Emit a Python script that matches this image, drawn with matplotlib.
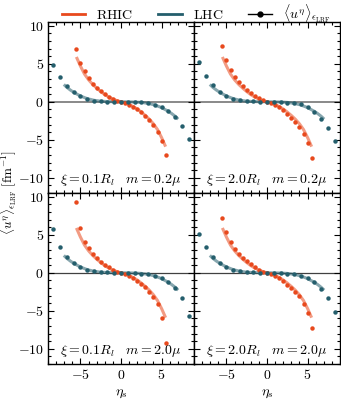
import numpy as np
import matplotlib
matplotlib.use("Agg")
import matplotlib.pyplot as plt
from matplotlib.ticker import MultipleLocator, FuncFormatter
from matplotlib.lines import Line2D

plt.rcParams['mathtext.fontset'] = 'cm'
plt.rcParams['font.family'] = 'serif'
plt.rcParams['font.serif'] = ['DejaVu Serif']
plt.rcParams['font.size'] = 10

# ---------------- data ----------------
eta_rhic = [-5.5, -5.0, -4.5, -4.0, -3.5, -3.0, -2.5, -2.0, -1.5, -1.0, -0.5, 0.0,
            0.5, 1.0, 1.5, 2.0, 2.5, 3.0, 3.5, 4.0, 4.5, 5.0, 5.5]
eta_lhc = [-8.33, -7.5, -6.67, -5.83, -5.0, -4.17, -3.33, -2.5, -1.67, -0.83, 0.0,
           0.83, 1.67, 2.5, 3.33, 4.17, 5.0, 5.83, 6.67, 7.5, 8.33]

panel_labels = [r"$\xi=0.1R_l\quad m=0.2\mu$", r"$\xi=2.0R_l\quad m=0.2\mu$",
                r"$\xi=0.1R_l\quad m=2.0\mu$", r"$\xi=2.0R_l\quad m=2.0\mu$"]

rhic_tl = [6.95, 5.15, 4.0, 3.1, 2.4, 1.85, 1.4, 1.0, 0.68, 0.4, 0.15, 0.0,
           -0.15, -0.4, -0.68, -1.0, -1.4, -1.85, -2.4, -3.1, -4.0, -5.15, -6.95]
rhic_tr = [7.4, 5.45, 4.2, 3.3, 2.6, 2.1, 1.55, 1.1, 0.72, 0.45, 0.2, 0.0,
           -0.2, -0.45, -0.72, -1.1, -1.55, -2.1, -2.6, -3.3, -4.2, -5.45, -7.4]
rhic_bl = [9.3, 5.9, 4.1, 3.2, 2.5, 1.9, 1.45, 1.05, 0.7, 0.4, 0.15, 0.0,
           -0.15, -0.4, -0.7, -1.05, -1.45, -1.9, -2.5, -3.2, -4.1, -5.9, -9.3]
rhic_br = [7.2, 5.35, 4.1, 3.1, 2.5, 2.0, 1.55, 1.1, 0.7, 0.4, 0.13, 0.0,
           -0.13, -0.4, -0.7, -1.1, -1.55, -2.0, -2.5, -3.1, -4.1, -5.35, -7.2]

lhc_tl = [4.88, 3.2, 2.06, 1.26, 0.73, 0.38, 0.15, 0.07, 0.02, 0.0, 0.0,
          0.0, -0.02, -0.07, -0.15, -0.38, -0.73, -1.26, -2.06, -3.2, -4.88]
lhc_tr = [5.2, 3.4, 2.2, 1.35, 0.7, 0.35, 0.18, 0.1, 0.04, 0.01, 0.0,
          -0.01, -0.04, -0.1, -0.18, -0.35, -0.7, -1.35, -2.2, -3.4, -5.2]
lhc_bl = [5.7, 3.34, 2.06, 1.26, 0.73, 0.38, 0.2, 0.1, 0.04, 0.01, 0.0,
          -0.01, -0.04, -0.1, -0.2, -0.38, -0.73, -1.26, -2.06, -3.34, -5.7]
lhc_br = [5.1, 3.34, 2.14, 1.26, 0.73, 0.38, 0.2, 0.1, 0.04, 0.01, 0.0,
          -0.01, -0.04, -0.1, -0.2, -0.38, -0.73, -1.26, -2.14, -3.34, -5.15]

rhic_dots = [rhic_tl, rhic_tr, rhic_bl, rhic_br]
lhc_dots = [lhc_tl, lhc_tr, lhc_bl, lhc_br]

# reference curves
eta_rhic_line = [-5.5, -5.0, -4.5, -4.0, -3.5, -3.0, -2.5, -2.0, -1.5, -1.0, -0.5, 0.0,
                 0.5, 1.0, 1.5, 2.0, 2.5, 3.0, 3.5, 4.0, 4.5, 5.0, 5.5]
rhic_line = [5.9, 4.7, 3.65, 2.9, 2.3, 1.8, 1.35, 0.95, 0.62, 0.36, 0.15, 0.0,
             -0.15, -0.36, -0.62, -0.95, -1.35, -1.8, -2.3, -2.9, -3.65, -4.7, -5.9]
eta_lhc_line = [-7.05, -6.67, -6.25, -5.83, -5.0, -4.17, -3.33, -2.5, -1.67, -0.83, 0.0,
                0.83, 1.67, 2.5, 3.33, 4.17, 5.0, 5.83, 6.25, 6.67, 7.05]
lhc_line = [2.28, 1.9, 1.55, 1.25, 0.76, 0.42, 0.2, 0.08, 0.03, 0.01, 0.0,
            -0.01, -0.03, -0.08, -0.2, -0.42, -0.76, -1.25, -1.55, -1.9, -2.28]

c_rhic = "#E8491D"
c_lhc = "#245E6C"

fig = plt.figure(figsize=(3.41, 4.0), dpi=100)
L, R, B, T = 48/341, 340/341, 36/400, 378/400
W = (R - L) / 2
H = (T - B) / 2
axes = []
for i in range(4):
    r, c = divmod(i, 2)
    ax = fig.add_axes([L + c*W, B + (1-r)*H, W, H])
    axes.append(ax)

fmt = FuncFormatter(lambda v, p: f"${v:g}$")
for i, ax in enumerate(axes):
    r, c = divmod(i, 2)
    ax.axhline(0, color='0.5' if r == 0 else '0.25', lw=1.3 if r == 0 else 0.9, zorder=1)
    ax.plot(eta_rhic_line, rhic_line, color=c_rhic, alpha=0.55, lw=2.2, solid_capstyle='butt', zorder=2)
    ax.plot(eta_lhc_line, lhc_line, color=c_lhc, alpha=0.55, lw=2.2, solid_capstyle='butt', zorder=2)
    ax.plot(eta_rhic, rhic_dots[i], 'o', color=c_rhic, ms=3.2, mew=0, zorder=3)
    ax.plot(eta_lhc, lhc_dots[i], 'o', color=c_lhc, ms=3.2, mew=0, zorder=3)
    ax.set_xlim(-9, 9)
    ax.set_ylim(-12, 10.5)
    ax.xaxis.set_major_locator(MultipleLocator(5))
    ax.xaxis.set_minor_locator(MultipleLocator(1))
    ax.yaxis.set_major_locator(MultipleLocator(5))
    ax.yaxis.set_minor_locator(MultipleLocator(1))
    ax.tick_params(which='both', direction='in', top=True, right=True, width=0.8)
    ax.tick_params(which='major', length=4.5, labelsize=10, pad=3)
    ax.tick_params(which='minor', length=2.3)
    ax.xaxis.set_major_formatter(fmt)
    ax.yaxis.set_major_formatter(fmt)
    if c == 1:
        ax.tick_params(labelleft=False)
    if r == 0:
        ax.tick_params(labelbottom=False)
    else:
        ax.set_xlabel(r"$\eta_s$", labelpad=3, fontsize=10)
    for s in ax.spines.values():
        s.set_linewidth(1.0)
    ax.text(0.5, 0.03, panel_labels[i], transform=ax.transAxes, ha='center', va='bottom',
            fontsize=10)

fig.text(0.026, (B + T) / 2, r"$\langle u^\eta\rangle_{\epsilon_{\rm LRF}}\ [{\rm fm}^{-1}]$",
         rotation=90, ha='center', va='center', fontsize=9.5)

handles = [Line2D([], [], color=c_rhic, lw=2),
           Line2D([], [], color=c_lhc, lw=2),
           Line2D([], [], color='k', lw=1, marker='o', ms=3.5)]
labels = [r"$\mathrm{RHIC}$", r"$\mathrm{LHC}$", r"$\langle u^\eta\rangle_{\epsilon_{\rm LRF}}$"]
fig.legend(handles, labels, loc='upper center', bbox_to_anchor=(0.575, 1.025), ncol=3,
           frameon=False, fontsize=10, handlelength=1.7, columnspacing=1.8, handletextpad=0.8)

fig.savefig("out.png", dpi=100)
